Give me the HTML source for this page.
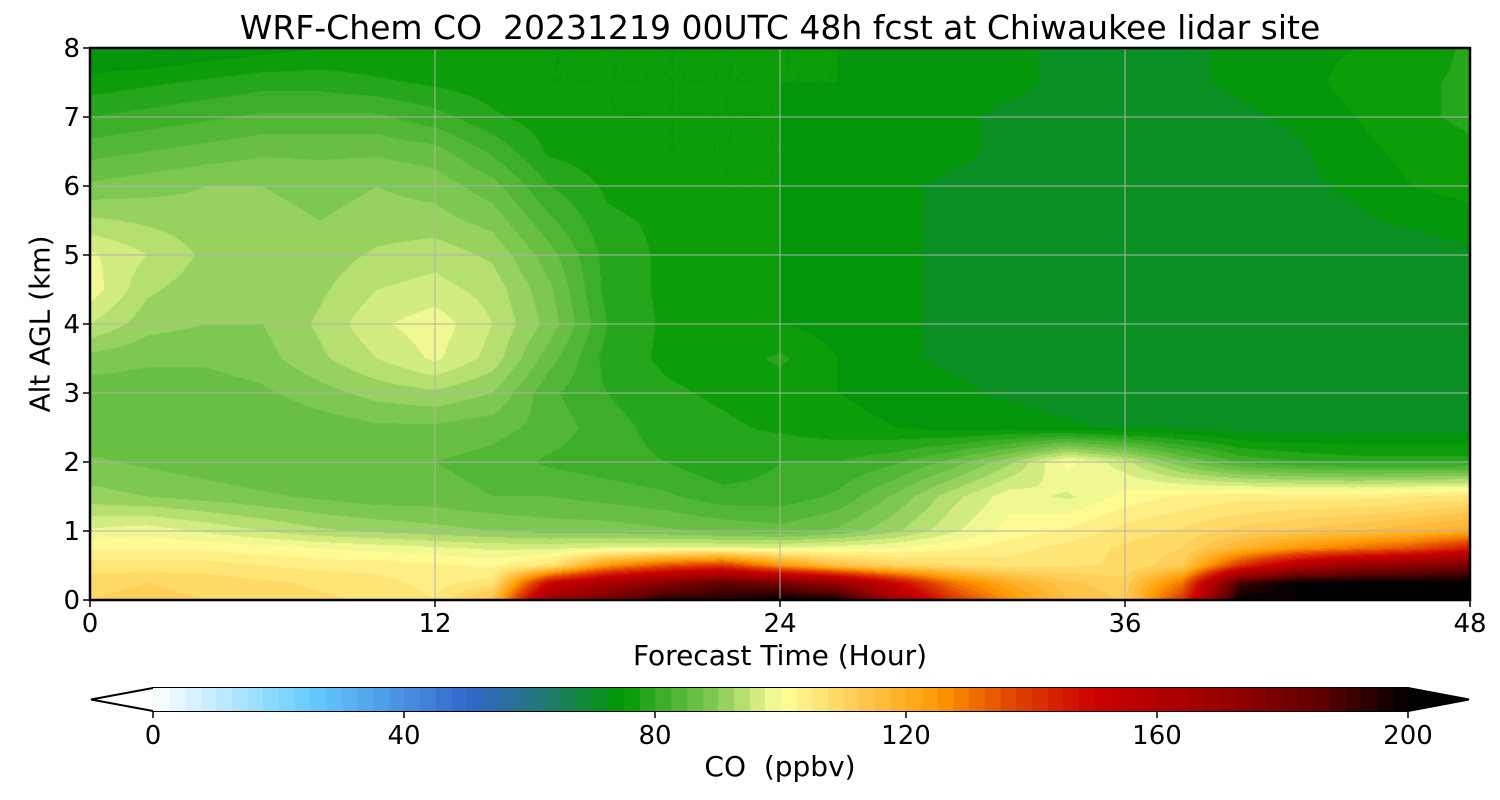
<!DOCTYPE html>
<html><head><meta charset="utf-8">
<style>
body{margin:0;background:#fff;width:1500px;height:800px;overflow:hidden;font-family:"DejaVu Sans","Liberation Sans",sans-serif;}
#wrap{position:relative;width:1500px;height:800px;}
canvas{position:absolute;}
.t{position:absolute;color:#000;white-space:nowrap;}
</style></head><body>
<div id="wrap">
<div class="t" style="left:780px;transform:translateX(-50%);top:8px;font-size:33px;">WRF-Chem CO&nbsp; 20231219 00UTC 48h fcst at Chiwaukee lidar site</div>
<canvas id="plot" width="1380" height="552" style="left:90px;top:48px;"></canvas>
<svg id="ov" width="1500" height="800" style="position:absolute;left:0;top:0"></svg>
<canvas id="cbar" width="1255" height="23" style="left:153px;top:688px;"></canvas>
<div class="t" style="left:780px;transform:translateX(-50%);top:639px;font-size:28px;">Forecast Time (Hour)</div>
<div class="t" style="left:40px;top:324px;transform:translate(-50%,-50%) rotate(-90deg);font-size:28px;">Alt AGL (km)</div>
<div class="t" style="left:780px;transform:translateX(-50%);top:750px;font-size:28px;">CO&nbsp; (ppbv)</div>
</div>
<script>
const times=[0,2,4,6,8,10,12,14,16,18,20,22,24,26,28,30,32,34,36,38,40,42,44,46,48];
const alts=[0,0.25,0.5,0.75,1,1.5,2,2.5,3,3.5,4,4.5,5,5.5,6,6.5,7,7.5,8];
const co_0=[110,111,110,109,108,107,105,115,170,180,195,195,200,198,165,140,125,115,112,140,200,200,200,200,200];
const co_025=[109,110,109,108,107,106,104,106,150,165,175,185,180,170,150,130,120,113,111,130,190,200,200,200,200];
const co_05=[106,106,106,105,104,104,103,102,106,125,135,140,125,115,110,108,106,107,108,112,140,160,170,175,180];
const co_075=[102,102,102,101,100,99,98,97,97,98,98,98,98,99,100,102,104,106,108,110,118,125,130,135,145];
const co_1=[98,99,97,95,93,92,91,90,89,89,88,87,86,88,92,97,101,103,106,108,111,113,115,117,120];
const co_15=[91,90,89,88,87,86,86,85,85,84,83,81,81,83,88,94,99,97,101,103,104,104,104,105,106];
const co_2=[88,87,86,85,85,85,85,84,82,81,80,78,80,80,82,86,92,101,96,88,82,80,79,79,79];
const co_25=[85,85,85,85,86,87,87,86,84,81,79,78,77,76,75,74,74,73,72,72,71,71,71,71,71];
const co_3=[86,86,86,87,89,91,92,90,83,80,78,77,76,75,74,73,72,71,71,71,71,71,71,71,71];
const co_35=[89,88,88,89,92,95,98,94,86,79,77,76,78,75,73,72,72,71,71,71,71,71,71,71,71];
const co_4=[95,91,90,90,93,97,99,95,89,80,77,76,75,74,73,72,72,71,71,71,71,71,71,71,71];
const co_45=[99,93,91,90,92,95,96,94,88,79,77,76,75,74,73,72,72,71,71,71,71,71,71,71,71];
const co_5=[98,95,92,91,91,93,94,92,86,79,77,76,75,74,73,72,72,71,71,71,71,71,71,71,72];
const co_55=[93,92,91,91,90,91,91,89,83,78,77,76,75,74,73,72,72,71,71,71,71,71,72,73,74];
const co_6=[88,89,90,90,89,90,89,86,80,77,76,75,75,74,73,72,72,71,71,71,71,72,73,75,76];
const co_65=[84,85,86,87,87,87,86,82,77,76,75,75,75,74,74,73,72,71,71,71,71,72,74,76,77];
const co_7=[80,81,82,83,83,83,81,78,76,75,75,75,75,74,74,73,72,72,71,71,72,73,75,77,78];
const co_75=[76,77,78,79,79,78,77,76,75,75,75,75,75,75,74,73,73,72,72,72,73,74,76,77,78];
const co_8=[72,72,73,74,75,75,75,75,75,75,75,75,75,75,75,74,73,72,72,72,73,74,75,76,78];
const grid=[co_0,co_025,co_05,co_075,co_1,co_15,co_2,co_25,co_3,co_35,co_4,co_45,co_5,co_55,co_6,co_65,co_7,co_75,co_8];
const xTicks=[0,12,24,36,48];
const yTicks=[0,1,2,3,4,5,6,7,8];
const cbTicks=[0,40,80,120,160,200];

const X0=90,X1=1470,Y0=600,Y1=48;
const xs=t=>X0+(t-0)/48*(X1-X0);
const ys=a=>Y0-(a-0)/8*(Y0-Y1);
const cbx=v=>153+v/200*1255;

const anchors=[[0,[255,255,255]],[25,[102,204,255]],[50,[51,102,204]],[62,[34,119,119]],[75,[0,153,0]],[80,[50,170,34]],[90,[136,204,85]],[100,[255,255,153]],[112,[255,204,85]],[125,[255,153,0]],[137,[224,68,0]],[150,[204,0,0]],[170,[153,0,0]],[185,[100,0,0]],[200,[0,0,0]]];
function cmap(v){
  v=Math.max(0,Math.min(200,v));
  v=Math.floor(v/2.5)*2.5+1.25; if(v>200)v=200;
  for(let i=0;i<anchors.length-1;i++){
    const [a,ca]=anchors[i],[b,cb]=anchors[i+1];
    if(v<=b){const f=(v-a)/(b-a);return ca.map((c,k)=>Math.round(c+(cb[k]-c)*f));}
  }
  return [0,0,0];
}
function sample(t,a){
  let i=Math.min(times.length-2,Math.floor(t/2)); let fx=(t-times[i])/(times[i+1]-times[i]);
  let j=0; while(j<alts.length-2&&a>alts[j+1])j++; let fy=(a-alts[j])/(alts[j+1]-alts[j]);
  fx=Math.max(0,Math.min(1,fx));fy=Math.max(0,Math.min(1,fy));
  const v00=grid[j][i],v10=grid[j][i+1],v01=grid[j+1][i],v11=grid[j+1][i+1];
  return v00*(1-fx)*(1-fy)+v10*fx*(1-fy)+v01*(1-fx)*fy+v11*fx*fy;
}
(function(){
  const c=document.getElementById('plot'),ctx=c.getContext('2d');
  const W=c.width,H=c.height,img=ctx.createImageData(W,H);
  for(let y=0;y<H;y++){const a=8*(1-(y+0.5)/H);
    for(let x=0;x<W;x++){const t=48*(x+0.5)/W;const col=cmap(sample(t,a));const p=(y*W+x)*4;
      img.data[p]=col[0];img.data[p+1]=col[1];img.data[p+2]=col[2];img.data[p+3]=255;}}
  ctx.putImageData(img,0,0);
  const cb=document.getElementById('cbar'),cx=cb.getContext('2d');
  for(let x=0;x<cb.width;x++){const col=cmap(x/cb.width*200);cx.fillStyle=`rgb(${col})`;cx.fillRect(x,0,1,cb.height);}
})();
const NS='http://www.w3.org/2000/svg',ov=document.getElementById('ov');
function mk(tag,attrs){const e=document.createElementNS(NS,tag);for(const k in attrs)e.setAttribute(k,attrs[k]);ov.appendChild(e);return e;}
const FF='DejaVu Sans, Liberation Sans, sans-serif';
xTicks.forEach(t=>{
  if(t>0&&t<48){const g=mk('line',{x1:xs(t),x2:xs(t),y1:Y1,y2:Y0,stroke:'#b0b0b0','stroke-width':1});
  
  }
  const tk=mk('line',{x1:xs(t),x2:xs(t),y1:Y0,y2:Y0+7,stroke:'#000','stroke-width':1.5});
  
  
  const l=mk('text',{x:xs(t),y:Y0+32,'text-anchor':'middle','font-size':26,'font-family':FF});
  l.textContent=t;
  
  
});
yTicks.forEach(a=>{
  if(a>0&&a<8){const g=mk('line',{x1:X0,x2:X1,y1:ys(a),y2:ys(a),stroke:'#b0b0b0','stroke-width':1});
  
  }
  const tk=mk('line',{x1:X0-7,x2:X0,y1:ys(a),y2:ys(a),stroke:'#000','stroke-width':1.5});
  
  
  const l=mk('text',{x:X0-10,y:ys(a)+9,'text-anchor':'end','font-size':26,'font-family':FF});
  l.textContent=a;
  
  
});
const fr=mk('rect',{x:X0,y:Y1,width:X1-X0,height:Y0-Y1,fill:'none',stroke:'#000','stroke-width':2.5});


const lt=mk('polygon',{points:'153,688 91,699.5 153,711',fill:'#fff',stroke:'none'});


const rt=mk('polygon',{points:'1408,688 1469,699.5 1408,711',fill:'#000'});


const cbo=mk('polygon',{points:'153,688 1408,688 1469,699.5 1408,711 153,711 91,699.5',fill:'none',stroke:'#000','stroke-width':2});


cbTicks.forEach(v=>{
  const tk=mk('line',{x1:cbx(v),x2:cbx(v),y1:711,y2:718,stroke:'#000','stroke-width':1.5});
  
  
  const l=mk('text',{x:cbx(v),y:744,'text-anchor':'middle','font-size':26,'font-family':FF});
  l.textContent=v;
  
  
});
</script>
</body></html>
